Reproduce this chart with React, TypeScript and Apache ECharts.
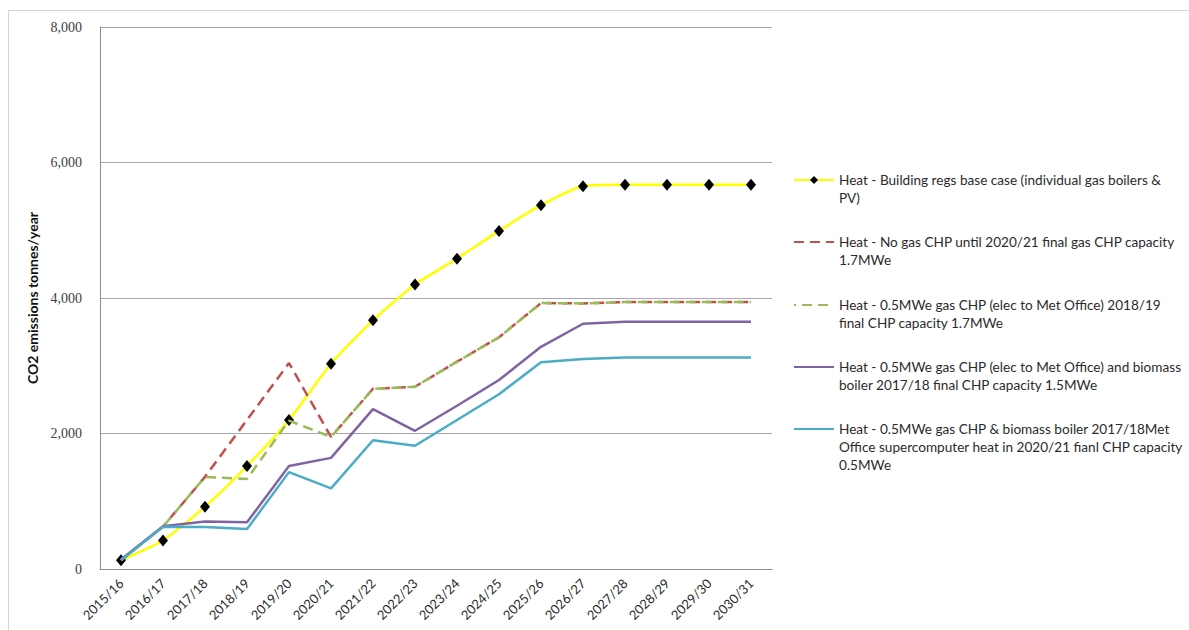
import React, { useEffect, useRef } from "react";
import * as echarts from "echarts";

const years = [
  "2015/16", "2016/17", "2017/18", "2018/19", "2019/20", "2020/21", "2021/22", "2022/23",
  "2023/24", "2024/25", "2025/26", "2026/27", "2027/28", "2028/29", "2029/30", "2030/31",
];

const baseCase = [130, 420, 920, 1520, 2200, 3030, 3670, 4200, 4580, 4990, 5370, 5650, 5670, 5670, 5670, 5670];
const noGasChp = [130, 625, 1360, 2200, 3040, 1950, 2660, 2690, 3060, 3420, 3925, 3920, 3940, 3940, 3940, 3940];
const halfMweChp = [130, 625, 1360, 1330, 2190, 1950, 2660, 2690, 3060, 3420, 3925, 3920, 3940, 3940, 3940, 3940];
const chpBiomass = [140, 630, 700, 690, 1520, 1640, 2360, 2040, 2410, 2790, 3280, 3620, 3650, 3650, 3650, 3650];
const chpBiomassSupercomputer = [130, 625, 620, 590, 1430, 1190, 1900, 1820, 2200, 2580, 3050, 3100, 3120, 3120, 3120, 3120];

const seriesNames = [
  "Heat - Building regs base case (individual gas boilers & PV)",
  "Heat - No gas CHP until 2020/21 final gas CHP capacity 1.7MWe",
  "Heat - 0.5MWe gas CHP (elec to Met Office) 2018/19 final CHP capacity 1.7MWe",
  "Heat - 0.5MWe gas CHP (elec to Met Office) and biomass boiler 2017/18 final CHP capacity 1.5MWe",
  "Heat - 0.5MWe gas CHP & biomass boiler 2017/18Met Office supercomputer heat in 2020/21 fianl CHP capacity 0.5MWe",
];

const legendLines = [
  ["Heat - Building regs base case (individual gas boilers &", "PV)"],
  ["Heat - No gas CHP until 2020/21 final gas CHP capacity", "1.7MWe"],
  ["Heat - 0.5MWe gas CHP (elec to Met Office) 2018/19", "final CHP capacity 1.7MWe"],
  ["Heat - 0.5MWe gas CHP (elec to Met Office) and biomass", "boiler 2017/18 final CHP capacity 1.5MWe"],
  ["Heat - 0.5MWe gas CHP & biomass boiler 2017/18Met", "Office supercomputer heat in 2020/21 fianl CHP capacity", "0.5MWe"],
];

const yTicks = { min: 0, max: 8000, interval: 2000 };

const FONT = "Lato, 'Open Sans', sans-serif";
const LINE_H = 18;
const legendTops = [153, 215, 278, 340, 384];

export default function App() {
  const ref = useRef<HTMLDivElement>(null);

  useEffect(() => {
    if (!ref.current) return;
    const chart = echarts.init(ref.current, undefined, { renderer: "svg" });

    // One legend per series so each icon sits on the first line of its wrapped text.
    const legends = seriesNames.map((name, i) => {
      const lines = legendLines[i];
      const lead = "\n".repeat(lines.length - 1);
      return {
        data: [name],
        left: 793,
        top: legendTops[i],
        padding: 0,
        itemWidth: 40,
        itemHeight: 10,
        itemGap: 0,
        selectedMode: false,
        itemStyle: i === 0 ? undefined : { color: "rgba(0,0,0,0)", borderWidth: 0 },
        formatter: () => lead + lines.join("\n"),
        textStyle: {
          fontFamily: FONT,
          fontSize: 13.6,
          color: "#2b2b2b",
          lineHeight: LINE_H,
        },
      };
    });

    chart.setOption({
      animation: false,
      backgroundColor: "#fff",
      graphic: [
        {
          type: "rect",
          shape: { x: 8.5, y: 10.5, width: 1300, height: 700 },
          style: { fill: "none", stroke: "#d4d4d4", lineWidth: 1 },
          silent: true,
        },
      ],
      legend: legends,
      grid: { left: 100, right: 417, top: 27, bottom: 61, containLabel: false },
      xAxis: {
        type: "category",
        data: years,
        boundaryGap: true,
        axisLine: { lineStyle: { color: "#8c8c8c", width: 1 } },
        axisTick: { show: false },
        axisLabel: {
          interval: 0,
          rotate: 45,
          margin: 12,
          fontFamily: FONT,
          fontSize: 13,
          color: "#2b2b2b",
        },
      },
      yAxis: {
        type: "value",
        min: yTicks.min,
        max: yTicks.max,
        interval: yTicks.interval,
        name: "CO2 emissions tonnes/year",
        nameLocation: "middle",
        nameGap: 52,
        nameTextStyle: { fontFamily: FONT, fontSize: 14, fontWeight: "bold", color: "#111" },
        axisLine: { show: true, lineStyle: { color: "#8c8c8c", width: 1 } },
        axisTick: { show: false },
        splitLine: { lineStyle: { color: "#a6a6a6", width: 1 } },
        axisLabel: {
          margin: 18,
          fontFamily: "'Liberation Serif', serif",
          fontSize: 14,
          color: "#404040",
          formatter: (v: number) => v.toLocaleString("en-US"),
        },
      },
      series: [
        {
          name: seriesNames[0],
          type: "line",
          data: baseCase,
          smooth: 0.2,
          symbol: "diamond",
          symbolSize: [10, 12],
          itemStyle: { color: "#000" },
          lineStyle: { color: "#ffff00", width: 2.5 },
          z: 2,
        },
        {
          name: seriesNames[1],
          type: "line",
          data: noGasChp,
          symbol: "none",
          itemStyle: { color: "#c0504d" },
          lineStyle: { color: "#c0504d", width: 2.5, type: [10, 6] },
          z: 3,
        },
        {
          name: seriesNames[2],
          type: "line",
          data: halfMweChp,
          symbol: "none",
          itemStyle: { color: "#9bbb59" },
          lineStyle: { color: "#9bbb59", width: 2.5, type: [10, 6], dashOffset: 8 },
          z: 4,
        },
        {
          name: seriesNames[3],
          type: "line",
          data: chpBiomass,
          symbol: "none",
          itemStyle: { color: "#8064a2" },
          lineStyle: { color: "#8064a2", width: 2.5 },
          z: 5,
        },
        {
          name: seriesNames[4],
          type: "line",
          data: chpBiomassSupercomputer,
          symbol: "none",
          itemStyle: { color: "#4bacc6" },
          lineStyle: { color: "#4bacc6", width: 2.5 },
          z: 6,
        },
      ],
    });

    return () => chart.dispose();
  }, []);

  return (
    <div
      ref={ref}
      style={{ position: "fixed", left: 0, top: 0, width: 1189, height: 630 }}
    />
  );
}
